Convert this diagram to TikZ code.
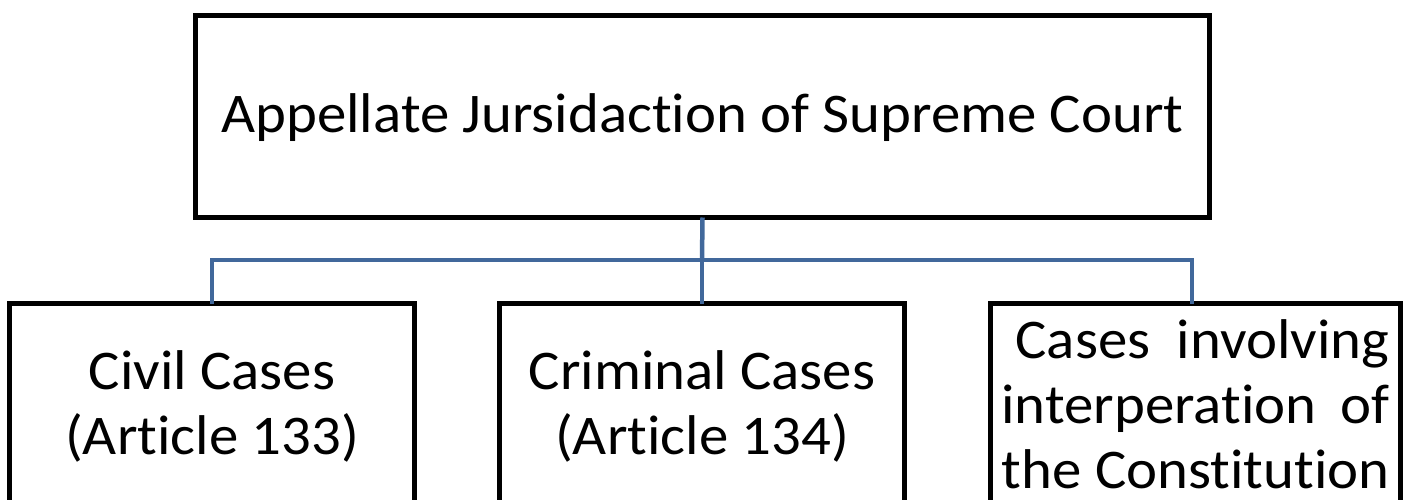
\documentclass[tikz,border=0pt]{standalone}
\usepackage{fontspec}
\setmainfont{Carlito}[FakeStretch=1.05,Ligatures={NoCommon},RawFeature={-liga;-calt}]
\definecolor{linkblue}{RGB}{65,104,155}
\begin{document}
\begin{tikzpicture}[x=1pt,y=-1pt,
  box/.style={draw=black,line width=5pt,fill=white,inner sep=0pt,outer sep=0pt},
  label/.style={inner sep=0pt,outer sep=0pt,align=center,font=\fontsize{56}{65}\selectfont},
  link/.style={draw=linkblue,line width=4.5pt}]
\useasboundingbox (0,0) rectangle (1405,500);
\clip (0,0) rectangle (1405,500);

% top box
\node[box,minimum width=1014pt,minimum height=202pt] (top) at (702.5,116.5) {};
\node[label,anchor=base] (toptext) at (702.5,133) {Appellate Jursidaction of Supreme Court};

% child boxes (run past the lower edge)
\node[box,anchor=north,minimum width=405pt,minimum height=260pt] (civil) at (212,303.5) {};
\node[box,anchor=north,minimum width=405pt,minimum height=260pt] (criminal) at (702,303.5) {};
\node[box,anchor=north,minimum width=410pt,minimum height=260pt] (constitution) at (1195.5,303.5) {};

% child texts (anchored on the baseline of the last line)
\node[label,anchor=base] (civiltext) at ([yshift=-150.5pt]civil.north) {Civil Cases\\(Article 133)};
\node[label,anchor=base] (criminaltext) at ([yshift=-150.5pt]criminal.north) {Criminal Cases\\(Article 134)};
\node[label,anchor=base] (constitutiontext) at ([yshift=-184.5pt]constitution.north)
  {\makebox[388pt][s]{\hspace{14pt}Cases involving}\\
   \makebox[388pt][s]{interperation of}\\
   \makebox[388pt][s]{the Constitution}};

% connectors
\coordinate (bus) at (702,260);
\draw[link] (top.south) -- (bus);
\draw[link] (bus) -- (criminal.north);
\draw[link] (civil.north) |- (bus) -| (constitution.north -| 1192,0);
\end{tikzpicture}
\end{document}
